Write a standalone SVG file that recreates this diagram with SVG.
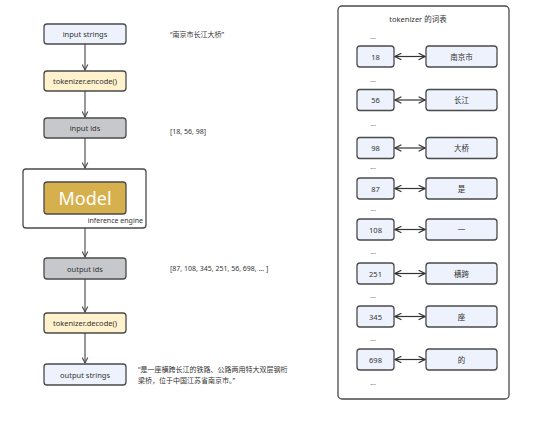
<svg xmlns="http://www.w3.org/2000/svg" width="554" height="424" viewBox="0 0 554 424">
<defs>
<marker id="ah" viewBox="0 0 10 10" refX="9" refY="5" markerWidth="7" markerHeight="7" orient="auto-start-reverse" markerUnits="userSpaceOnUse">
<path d="M1,1 L9,5 L1,9" fill="none" stroke="#444" stroke-width="1.5"/>
</marker>
<marker id="ah2" viewBox="0 0 10 10" refX="9" refY="5" markerWidth="8" markerHeight="8" orient="auto-start-reverse" markerUnits="userSpaceOnUse">
<path d="M1,1 L9,5 L1,9" fill="none" stroke="#333" stroke-width="1.6"/>
</marker>
</defs>
<style>
text{font-family:"Noto Sans","Noto Sans CJK SC",sans-serif;fill:#333;}
.n{stroke:#4a4a4a;stroke-width:1.3;}
.blue{fill:#edf2fc;}
.yel{fill:#fff2cc;}
.gray{fill:#c6c8cc;}
.lbl{font-size:7.5px;text-anchor:middle;dominant-baseline:central;}
.note{font-size:7px;}
.dots{font-size:7px;text-anchor:middle;fill:#666;}
.c{stroke:#444;stroke-width:1.1;fill:none;}
.h{stroke:#333;stroke-width:1.2;fill:none;}
</style>
<rect width="554" height="424" fill="#fff"/>

<g id="vocab">
<rect class="n" fill="#fff" x="338" y="6" width="171" height="393" rx="4"/>
<text x="418" y="22" font-size="7.5" text-anchor="middle">tokenizer 的词表</text>
<text class="dots" x="373" y="39">...</text>
<text class="dots" x="373" y="82">...</text>
<text class="dots" x="373" y="126">...</text>
<text class="dots" x="373" y="169">...</text>
<text class="dots" x="373" y="211">...</text>
<text class="dots" x="373" y="254">...</text>
<text class="dots" x="373" y="298">...</text>
<text class="dots" x="373" y="341">...</text>
<text class="dots" x="373" y="385">...</text>
</g>

<g id="input-strings"><rect class="n blue" x="44" y="24" width="82" height="20" rx="3"/><text class="lbl" x="85" y="34">input strings</text></g>
<g id="encode"><rect class="n yel" x="44" y="71" width="82" height="20" rx="3"/><text class="lbl" x="85" y="81">tokenizer.encode()</text></g>
<g id="input-ids"><rect class="n gray" x="44" y="118" width="82" height="20" rx="3"/><text class="lbl" x="85" y="128">input ids</text></g>
<g id="engine"><rect class="n" fill="#fff" x="23" y="169" width="123" height="59" rx="3"/>
<rect class="n" fill="#d6b04c" x="44" y="182" width="82" height="32" rx="3"/>
<text x="85" y="198" font-size="18" text-anchor="middle" dominant-baseline="central" style="fill:#fff">Model</text>
<text x="143" y="223" font-size="7" text-anchor="end">inference engine</text></g>
<g id="output-ids"><rect class="n gray" x="44" y="258" width="82" height="21" rx="3"/><text class="lbl" x="85" y="268.5">output ids</text></g>
<g id="decode"><rect class="n yel" x="44" y="313" width="82" height="20" rx="3"/><text class="lbl" x="85" y="323">tokenizer.decode()</text></g>
<g id="output-strings"><rect class="n blue" x="44" y="364" width="82" height="21" rx="3"/><text class="lbl" x="85" y="374.5">output strings</text></g>

<g id="notes">
<text class="note" x="170" y="37">“南京市长江大桥”</text>
<text class="note" x="170" y="134">[18, 56, 98]</text>
<text class="note" x="170" y="271">[87, 108, 345, 251, 56, 698, ... ]</text>
<text class="note" x="138" y="372">“是一座横跨长江的铁路、公路两用特大双层钢桁</text>
<text class="note" x="138" y="383">梁桥，位于中国江苏省南京市。”</text>
</g>

<g id="connectors">
<line class="c" x1="85" y1="44" x2="85" y2="70" marker-end="url(#ah)"/>
<line class="c" x1="85" y1="91" x2="85" y2="117" marker-end="url(#ah)"/>
<line class="c" x1="85" y1="138" x2="85" y2="168" marker-end="url(#ah)"/>
<line class="c" x1="85" y1="228" x2="85" y2="257" marker-end="url(#ah)"/>
<line class="c" x1="85" y1="279" x2="85" y2="312" marker-end="url(#ah)"/>
<line class="c" x1="85" y1="333" x2="85" y2="363" marker-end="url(#ah)"/>
<line class="h" x1="395" y1="56.5" x2="425" y2="56.5" marker-start="url(#ah2)" marker-end="url(#ah2)"/>
<line class="h" x1="395" y1="100" x2="425" y2="100" marker-start="url(#ah2)" marker-end="url(#ah2)"/>
<line class="h" x1="395" y1="148" x2="425" y2="148" marker-start="url(#ah2)" marker-end="url(#ah2)"/>
<line class="h" x1="395" y1="188.5" x2="425" y2="188.5" marker-start="url(#ah2)" marker-end="url(#ah2)"/>
<line class="h" x1="395" y1="229.5" x2="425" y2="229.5" marker-start="url(#ah2)" marker-end="url(#ah2)"/>
<line class="h" x1="395" y1="273.5" x2="425" y2="273.5" marker-start="url(#ah2)" marker-end="url(#ah2)"/>
<line class="h" x1="395" y1="316.5" x2="425" y2="316.5" marker-start="url(#ah2)" marker-end="url(#ah2)"/>
<line class="h" x1="395" y1="359.5" x2="425" y2="359.5" marker-start="url(#ah2)" marker-end="url(#ah2)"/>
</g>

<g id="row-18"><rect class="n blue" x="357" y="46" width="37" height="21" rx="3"/><text class="lbl" x="375.5" y="56.5">18</text><rect class="n blue" x="426" y="46" width="71" height="21" rx="3"/><text class="lbl" x="461.5" y="56.5">南京市</text></g>
<g id="row-56"><rect class="n blue" x="357" y="89.5" width="37" height="21" rx="3"/><text class="lbl" x="375.5" y="100">56</text><rect class="n blue" x="426" y="89.5" width="71" height="21" rx="3"/><text class="lbl" x="461.5" y="100">长江</text></g>
<g id="row-98"><rect class="n blue" x="357" y="137.5" width="37" height="21" rx="3"/><text class="lbl" x="375.5" y="148">98</text><rect class="n blue" x="426" y="137.5" width="71" height="21" rx="3"/><text class="lbl" x="461.5" y="148">大桥</text></g>
<g id="row-87"><rect class="n blue" x="357" y="178" width="37" height="21" rx="3"/><text class="lbl" x="375.5" y="188.5">87</text><rect class="n blue" x="426" y="178" width="71" height="21" rx="3"/><text class="lbl" x="461.5" y="188.5">是</text></g>
<g id="row-108"><rect class="n blue" x="357" y="219" width="37" height="21" rx="3"/><text class="lbl" x="375.5" y="229.5">108</text><rect class="n blue" x="426" y="219" width="71" height="21" rx="3"/><text class="lbl" x="461.5" y="229.5">一</text></g>
<g id="row-251"><rect class="n blue" x="357" y="263" width="37" height="21" rx="3"/><text class="lbl" x="375.5" y="273.5">251</text><rect class="n blue" x="426" y="263" width="71" height="21" rx="3"/><text class="lbl" x="461.5" y="273.5">横跨</text></g>
<g id="row-345"><rect class="n blue" x="357" y="306" width="37" height="21" rx="3"/><text class="lbl" x="375.5" y="316.5">345</text><rect class="n blue" x="426" y="306" width="71" height="21" rx="3"/><text class="lbl" x="461.5" y="316.5">座</text></g>
<g id="row-698"><rect class="n blue" x="357" y="349" width="37" height="21" rx="3"/><text class="lbl" x="375.5" y="359.5">698</text><rect class="n blue" x="426" y="349" width="71" height="21" rx="3"/><text class="lbl" x="461.5" y="359.5">的</text></g>
</svg>
